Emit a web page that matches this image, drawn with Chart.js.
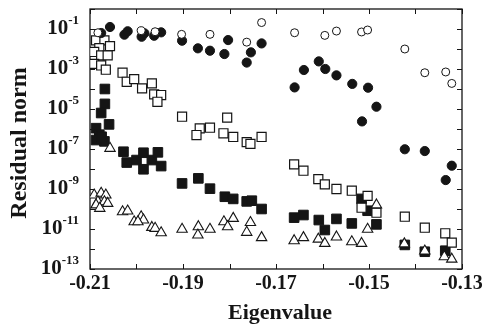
<!DOCTYPE html>
<html><head><meta charset="utf-8">
<script src="https://cdn.jsdelivr.net/npm/chart.js@4/dist/chart.umd.min.js"></script>
<style>html,body{margin:0;padding:0;background:#fff;}#wrap{width:485px;height:324px;}</style>
</head><body><div id="wrap"><canvas id="c" width="485" height="324"></canvas></div>
<script>
// ---- axis definitions ----
const xTickValues = [-0.21,-0.20,-0.19,-0.18,-0.17,-0.16,-0.15,-0.14,-0.13];
const xTickLabels = ['-0.21','','-0.19','','-0.17','','-0.15','','-0.13'];
const yTickExponents = [-13,-12,-11,-10,-9,-8,-7,-6,-5,-4,-3,-2,-1,0];
const yLabelExponents = [-1,-3,-5,-7,-9,-11,-13];
const xTitle = 'Eigenvalue';
const yTitle = 'Residual norm';

// ---- series ----
const openCircleX = [-0.2083,-0.1990,-0.1960,-0.1903,-0.1842,-0.1763,-0.1731,-0.1660,-0.1595,-0.1570,-0.1516,-0.1503,-0.1423,-0.1380,-0.1335,-0.1322];
const openCircleY = [6.5e-2,8.2e-2,7.3e-2,5.4e-2,5.4e-2,2.2e-2,0.21,6.5e-2,4.8e-2,7.9e-2,7.1e-2,8.9e-2,1.0e-2,6.5e-4,7.1e-4,1.9e-4];

const filledCircleX = [-0.2076,-0.2057,-0.2026,-0.2019,-0.1989,-0.1983,-0.1962,-0.1947,-0.1902,-0.1868,-0.1842,-0.1811,-0.1803,-0.1763,-0.1754,-0.1731,-0.1660,-0.1640,-0.1608,-0.1594,-0.1570,-0.1536,-0.1515,-0.1502,-0.1484,-0.1423,-0.1380,-0.1335,-0.1322];
const filledCircleY = [6.3e-2,0.126,5.2e-2,7.7e-2,4.1e-2,6.1e-2,4.6e-2,6.8e-2,2.6e-2,1.08e-2,8.2e-3,5.6e-3,2.8e-2,2.1e-3,6.8e-3,1.9e-2,1.2e-4,8.9e-4,2.4e-3,1.0e-3,4.8e-4,1.8e-4,2.4e-6,1.16e-4,1.3e-5,9.7e-8,7.9e-8,2.8e-9,1.46e-8];

const openSquareX = [-0.2087,-0.2069,-0.2080,-0.2057,-0.2091,-0.2076,-0.2062,-0.2091,-0.2076,-0.2066,-0.2030,-0.2021,-0.2005,-0.1988,-0.1967,-0.1962,-0.1947,-0.1955,-0.1902,-0.1864,-0.1871,-0.1842,-0.1805,-0.1813,-0.1792,-0.1763,-0.1755,-0.1731,-0.1661,-0.1641,-0.1609,-0.1595,-0.1570,-0.1537,-0.1503,-0.1516,-0.1484,-0.1423,-0.1380,-0.1336,-0.1322];
const openSquareY = [2.7e-2,2.7e-2,1.1e-2,1.4e-2,7.1e-3,4.8e-3,4.8e-3,1.8e-3,1.5e-3,9.2e-4,6.5e-4,2.3e-4,3.1e-4,1.08e-4,1.9e-4,5.4e-5,5.0e-5,2.3e-5,4.1e-6,1.08e-6,5.0e-7,1.16e-6,3.7e-6,6.1e-7,4.0e-7,2.2e-7,1.8e-7,4.0e-7,1.7e-8,8.2e-9,3.1e-9,1.7e-9,1.0e-9,8.2e-10,4.5e-10,1.16e-10,6.5e-11,4.1e-11,1.16e-11,6.1e-12,2.1e-12];

const filledSquareX = [-0.2068,-0.2068,-0.2076,-0.2059,-0.2087,-0.2080,-0.2069,-0.2087,-0.2075,-0.2028,-0.2021,-0.2000,-0.1985,-0.1985,-0.1967,-0.1954,-0.1947,-0.1902,-0.1867,-0.1842,-0.1810,-0.1792,-0.1763,-0.1752,-0.1731,-0.1661,-0.1641,-0.1608,-0.1595,-0.1570,-0.1537,-0.1516,-0.1503,-0.1484,-0.1423,-0.1380,-0.1336];
const filledSquareY = [1e-4,1.8e-5,6.3e-6,1.7e-6,1.1e-6,5.2e-7,2.4e-7,2.8e-7,4.1e-7,7.3e-8,2.1e-8,2.8e-8,6.5e-8,9.7e-9,2.8e-8,6.8e-8,1.4e-8,1.9e-9,3.4e-9,1.04e-9,4.1e-10,3.2e-10,2.4e-10,2.6e-10,1e-10,3.7e-11,5.0e-11,2.8e-11,8.9e-12,3.2e-11,1.9e-11,3.2e-10,8.2e-11,1.7e-11,1.6e-12,7.3e-13,8.2e-13];

const openTriangleX = [-0.2091,-0.2076,-0.2066,-0.2083,-0.2069,-0.2087,-0.2062,-0.2079,-0.2057,-0.2030,-0.2019,-0.2005,-0.1990,-0.1985,-0.1997,-0.1967,-0.1960,-0.1947,-0.1902,-0.1867,-0.1868,-0.1842,-0.1812,-0.1792,-0.1804,-0.1755,-0.1763,-0.1731,-0.1661,-0.1641,-0.1609,-0.1595,-0.1570,-0.1537,-0.1516,-0.1503,-0.1484,-0.1424,-0.1380,-0.1338,-0.1322];
const openTriangleY = [5.0e-10,6.1e-10,5.0e-10,2.3e-10,2.3e-10,1.6e-10,1.9e-10,1.08e-10,1.08e-7,7.3e-11,7.9e-11,2.3e-11,4.1e-11,2.8e-11,2.3e-11,1.2e-11,1.08e-11,6.5e-12,9.7e-12,1.3e-11,5.0e-12,9.7e-12,2.3e-11,3.4e-11,1.3e-11,2.1e-11,6.8e-12,3.7e-12,2.6e-12,3.7e-12,3.1e-12,1.9e-12,4.0e-12,2.3e-12,1.9e-12,9.7e-12,1.6e-10,1.8e-12,7.9e-13,4.1e-13,3.1e-13];

const pts = (xs, ys) => xs.map((v, i) => ({x: v, y: ys[i]}));
const INK = '#151515';
const FONT = '"Liberation Serif", "Times New Roman", serif';

const axesPlugin = {
  id: 'axesPlugin',
  beforeDatasetsDraw(chart) {
    const {ctx, chartArea: a, scales: {x, y}} = chart;
    ctx.save();
    ctx.strokeStyle = INK;
    ctx.lineWidth = 1.3;
    ctx.strokeRect(a.left, a.top, a.right - a.left, a.bottom - a.top);
    ctx.lineWidth = 1;
    ctx.beginPath();
    xTickValues.forEach(v => {
      const px = Math.round(x.getPixelForValue(v)) + 0.5;
      ctx.moveTo(px, a.bottom); ctx.lineTo(px, a.bottom - 5);
      ctx.moveTo(px, a.top); ctx.lineTo(px, a.top + 5);
    });
    yTickExponents.forEach(e => {
      const py = Math.round(y.getPixelForValue(Math.pow(10, e))) + 0.5;
      ctx.moveTo(a.left, py); ctx.lineTo(a.left + 5, py);
      ctx.moveTo(a.right, py); ctx.lineTo(a.right - 5, py);
    });
    ctx.stroke();

    ctx.fillStyle = INK;
    // x tick labels
    ctx.font = 'bold 20px ' + FONT;
    ctx.textAlign = 'center';
    ctx.textBaseline = 'middle';
    xTickValues.forEach((v, i) => {
      if (xTickLabels[i]) ctx.fillText(xTickLabels[i], x.getPixelForValue(v), a.bottom + 15);
    });
    // y tick labels 10^e
    yLabelExponents.forEach(e => {
      const py = y.getPixelForValue(Math.pow(10, e));
      const exp = String(e);
      ctx.font = 'bold 13px ' + FONT;
      const we = ctx.measureText(exp).width;
      const right = a.left - 11;
      ctx.textAlign = 'left';
      ctx.fillText(exp, right - we, py - 8);
      ctx.font = 'bold 21px ' + FONT;
      ctx.textAlign = 'right';
      ctx.fillText('10', right - we, py);
    });
    // titles
    ctx.font = 'bold 22px ' + FONT;
    ctx.textAlign = 'center';
    ctx.fillText(xTitle, (a.left + a.right) / 2 + 4, a.bottom + 44);
    ctx.save();
    ctx.font = 'bold 24px ' + FONT;
    ctx.translate(20, (a.top + a.bottom) / 2 + 4);
    ctx.rotate(-Math.PI / 2);
    ctx.fillText(yTitle, 0, 0);
    ctx.restore();
    ctx.restore();
  }
};

const base = {showLine: false, borderColor: INK};
new Chart(document.getElementById('c'), {
  type: 'scatter',
  data: {
    datasets: [
      Object.assign({label: 'open triangles', data: pts(openTriangleX, openTriangleY), pointStyle: 'triangle', pointRadius: 6, backgroundColor: '#fff', borderWidth: 1.1, order: 1}, base),
      Object.assign({label: 'open circles', data: pts(openCircleX, openCircleY), pointStyle: 'circle', pointRadius: 4, backgroundColor: '#fff', borderWidth: 1, order: 2}, base),
      Object.assign({label: 'filled circles', data: pts(filledCircleX, filledCircleY), pointStyle: 'circle', pointRadius: 4.6, backgroundColor: INK, borderWidth: 1, order: 3}, base),
      Object.assign({label: 'open squares', data: pts(openSquareX, openSquareY), pointStyle: 'rect', pointRadius: 6.4, backgroundColor: '#fff', borderWidth: 1.2, order: 4}, base),
      Object.assign({label: 'filled squares', data: pts(filledSquareX, filledSquareY), pointStyle: 'rect', pointRadius: 6.8, backgroundColor: INK, borderWidth: 1, order: 5}, base)
    ]
  },
  options: {
    responsive: false,
    devicePixelRatio: 1,
    animation: false,
    events: [],
    layout: {padding: {left: 90, right: 23, top: 9, bottom: 55}},
    plugins: {legend: {display: false}, tooltip: {enabled: false}},
    scales: {
      x: {type: 'linear', min: -0.21, max: -0.13, display: false},
      y: {type: 'logarithmic', min: 1e-13, max: 1, display: false}
    }
  },
  plugins: [axesPlugin]
});
</script>
</body></html>
